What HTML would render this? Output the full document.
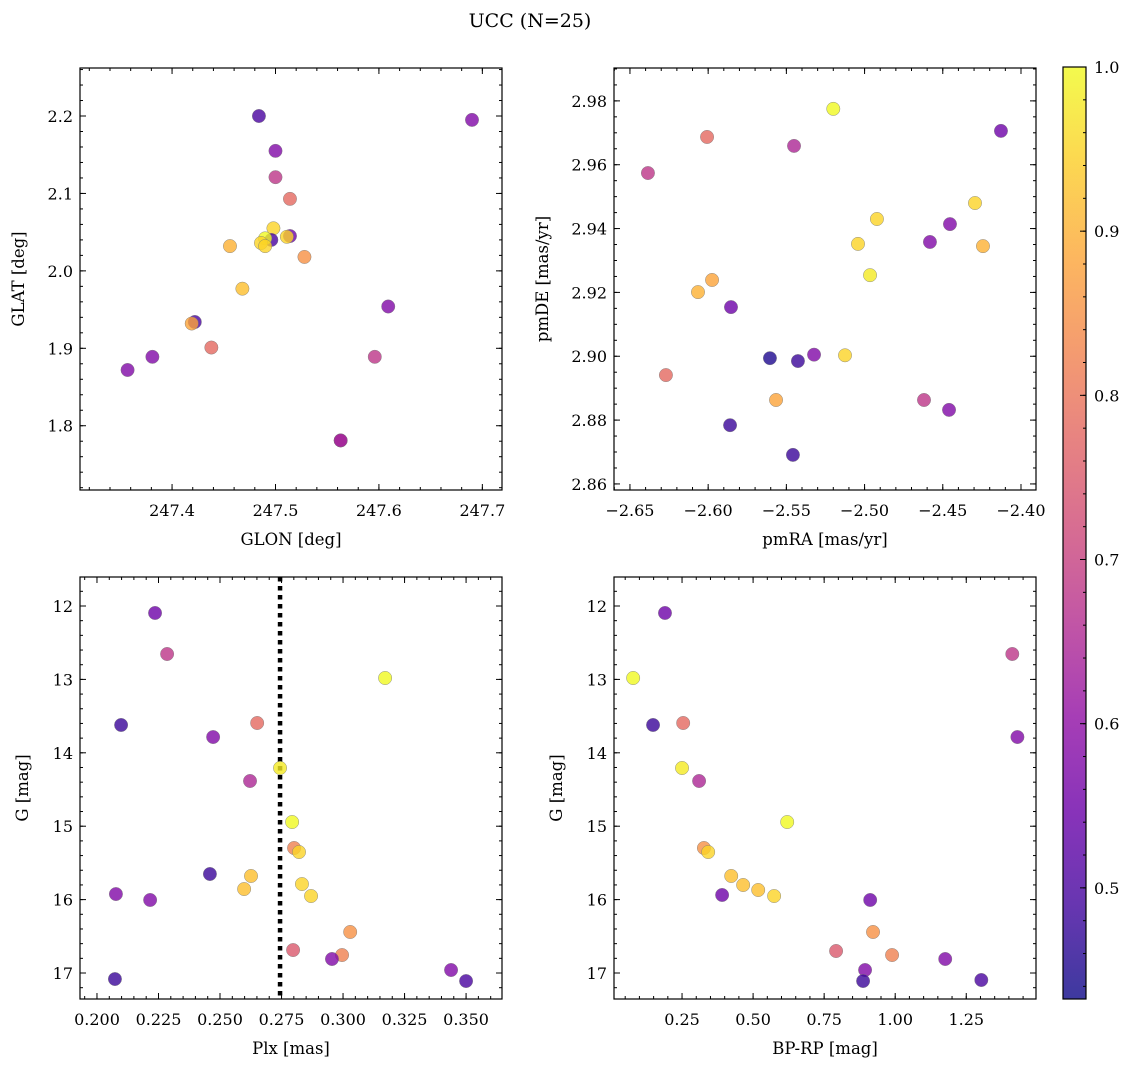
<!DOCTYPE html>
<html><head><meta charset="utf-8"><style>
body{margin:0;background:#fff}
svg text{font-family:"DejaVu Serif","Liberation Serif",serif;fill:#000}
</style></head><body>
<svg id="fig" width="1136" height="1067" xmlns="http://www.w3.org/2000/svg">
<text x="530" y="27" font-size="19" text-anchor="middle">UCC (N=25)</text>
</svg>
<script>
// Panel 1: GLON vs GLAT
const glon1 = [247.484,247.690,247.500,247.500,247.514,247.498,247.496,247.514,247.511,247.490,247.486,247.490,247.456,247.528,247.468,247.422,247.419,247.438,247.609,247.381,247.596,247.357,247.563,247.563];
const glat1 = [2.200,2.195,2.155,2.121,2.093,2.055,2.040,2.045,2.044,2.042,2.036,2.032,2.032,2.018,1.977,1.934,1.932,1.901,1.954,1.889,1.889,1.872,1.781,1.781];
const prob1 = [0.50,0.58,0.58,0.68,0.78,0.95,0.50,0.55,0.95,1.00,0.95,0.95,0.90,0.85,0.92,0.50,0.88,0.78,0.58,0.58,0.68,0.58,0.55,0.65];
// Panel 2: pmRA vs pmDE
const pmra2 = [-2.520,-2.4128,-2.6007,-2.5451,-2.6385,-2.4294,-2.4921,-2.4454,-2.4582,-2.5042,-2.4243,-2.4965,-2.5975,-2.6065,-2.5854,-2.5323,-2.5605,-2.5426,-2.5125,-2.6270,-2.5566,-2.4620,-2.4460,-2.5860,-2.5458];
const pmde2 = [2.9775,2.9706,2.9687,2.9659,2.9574,2.9480,2.9430,2.9414,2.9358,2.9352,2.9345,2.9254,2.9239,2.9201,2.9154,2.9005,2.8994,2.8985,2.9003,2.8941,2.8863,2.8863,2.8832,2.8784,2.8691];
const prob2 = [1.00,0.55,0.78,0.65,0.68,0.95,0.95,0.58,0.58,0.95,0.90,0.98,0.88,0.90,0.55,0.58,0.45,0.48,0.95,0.78,0.88,0.68,0.58,0.48,0.48];
// Panel 3: Plx vs G
const plx3 = [0.2236,0.2285,0.3171,0.2098,0.2651,0.2472,0.2622,0.2744,0.2793,0.2801,0.2821,0.2459,0.2626,0.2598,0.2833,0.2870,0.2077,0.2216,0.3029,0.2797,0.2996,0.2955,0.3439,0.2073,0.3500];
const g3 = [12.095,12.654,12.981,13.621,13.594,13.785,14.384,14.207,14.943,15.297,15.352,15.651,15.678,15.856,15.788,15.951,15.924,16.005,16.441,16.687,16.755,16.809,16.959,17.082,17.109];
const prob3 = [0.55,0.68,1.00,0.48,0.78,0.58,0.65,0.98,1.00,0.82,0.95,0.48,0.92,0.92,0.95,0.95,0.58,0.58,0.85,0.75,0.82,0.58,0.58,0.48,0.50];
const plxLine = 0.2744;
// Panel 4: BP-RP vs G
const bprp4 = [0.190,1.412,0.078,0.148,0.254,1.430,0.250,0.310,0.620,0.327,0.342,0.423,0.465,0.518,0.574,0.391,0.912,0.922,0.792,0.989,1.176,0.894,0.887,1.303];
const g4 = [12.095,12.654,12.981,13.621,13.594,13.785,14.207,14.384,14.943,15.297,15.352,15.678,15.801,15.869,15.951,15.937,16.005,16.441,16.700,16.755,16.809,16.959,17.109,17.095];
const prob4 = [0.55,0.68,1.00,0.48,0.78,0.58,0.98,0.65,1.00,0.85,0.95,0.92,0.92,0.92,0.95,0.55,0.55,0.85,0.75,0.82,0.58,0.58,0.48,0.50];
// Tick labels
const ticks1x = ["247.4","247.5","247.6","247.7"];
const ticks1y = ["1.8","1.9","2.0","2.1","2.2"];
const ticks2x = ["−2.65","−2.60","−2.55","−2.50","−2.45","−2.40"];
const ticks2y = ["2.86","2.88","2.90","2.92","2.94","2.96","2.98"];
const ticks3x = ["0.200","0.225","0.250","0.275","0.300","0.325","0.350"];
const ticksG = ["12","13","14","15","16","17"];
const ticks4x = ["0.25","0.50","0.75","1.00","1.25"];
const ticksC = ["0.5","0.6","0.7","0.8","0.9","1.0"];
const cMin = 0.4323, cMax = 1.0;

const NS="http://www.w3.org/2000/svg";
const svg=document.getElementById('fig');
function mk(tag,attrs,parent){const e=document.createElementNS(NS,tag);for(const k in attrs)e.setAttribute(k,attrs[k]);(parent||svg).appendChild(e);return e;}
const stops=["#0d0887","#41049d","#6a00a8","#8f0da4","#b12a90","#cc4778","#e16462","#f2844b","#fca636","#fcce25","#f0f921"];
function hex(h){return [1,3,5].map(i=>parseInt(h.substr(i,2),16));}
function plasma(t){t=Math.max(0,Math.min(1,t));const s=t*10,i=Math.min(9,Math.floor(s)),f=s-i;const a=hex(stops[i]),b=hex(stops[i+1]);return 'rgb('+a.map((v,k)=>Math.round(v+(b[k]-v)*f)).join(',')+')';}
function cmap(c){return plasma((c-cMin)/(cMax-cMin));}

function panel(o){
  const g=mk('g',{});
  
  
  const sx=v=>o.x0+(v-o.xmin)/(o.xmax-o.xmin)*(o.x1-o.x0);
  const sy=o.inv? v=>o.y0+(v-o.ymin)/(o.ymax-o.ymin)*(o.y1-o.y0) : v=>o.y1-(v-o.ymin)/(o.ymax-o.ymin)*(o.y1-o.y0);
  if(o.vline!==undefined){const l=mk('line',{x1:sx(o.vline),x2:sx(o.vline),y1:o.y0,y2:o.y1,stroke:'#000','stroke-width':4.5,'stroke-dasharray':'4.5,4.5'},g);
    }
  for(let i=0;i<o.xs.length;i++){
    const c=mk('circle',{cx:sx(o.xs[i]),cy:sy(o.ys[i]),r:6.7,fill:cmap(o.cs[i]),'fill-opacity':0.8,stroke:'#777','stroke-width':0.5,'stroke-opacity':0.8},g);
    
    
  }
  const f=mk('rect',{x:o.x0,y:o.y0,width:o.x1-o.x0,height:o.y1-o.y0,fill:'none',stroke:'#000','stroke-width':1.2},g);
  
  const eps=1e-9;
  for(let v=Math.ceil(o.xmin/o.xmn-eps)*o.xmn; v<=o.xmax+eps; v+=o.xmn){const X=sx(v);
    mk('line',{x1:X,x2:X,y1:o.y1,y2:o.y1-3,stroke:'#000'},g);mk('line',{x1:X,x2:X,y1:o.y0,y2:o.y0+3,stroke:'#000'},g);}
  o.xt.forEach(t=>{const v=parseFloat(t.replace('−','-'));const X=sx(v);
    mk('line',{x1:X,x2:X,y1:o.y1,y2:o.y1-6,stroke:'#000'},g);mk('line',{x1:X,x2:X,y1:o.y0,y2:o.y0+6,stroke:'#000'},g);
    const tx=mk('text',{x:X,y:o.y1+26,'font-size':16,'text-anchor':'middle'},g);tx.textContent=t;
    });
  for(let v=Math.ceil(o.ymin/o.ymn-eps)*o.ymn; v<=o.ymax+eps; v+=o.ymn){const Y=sy(v);
    mk('line',{x1:o.x0,x2:o.x0+3,y1:Y,y2:Y,stroke:'#000'},g);mk('line',{x1:o.x1,x2:o.x1-3,y1:Y,y2:Y,stroke:'#000'},g);}
  o.yt.forEach(t=>{const v=parseFloat(t);const Y=sy(v);
    mk('line',{x1:o.x0,x2:o.x0+6,y1:Y,y2:Y,stroke:'#000'},g);mk('line',{x1:o.x1,x2:o.x1-6,y1:Y,y2:Y,stroke:'#000'},g);
    const tx=mk('text',{x:o.x0-7,y:Y+6,'font-size':16,'text-anchor':'end'},g);tx.textContent=t;
    });
  const xl=mk('text',{x:(o.x0+o.x1)/2,y:o.y1+55,'font-size':16.5,'text-anchor':'middle'},g);xl.textContent=o.xlabel;
  
  const yx=o.x0-o.ylo, yy=(o.y0+o.y1)/2;
  const yl=mk('text',{x:yx,y:yy,'font-size':16.5,'text-anchor':'middle',transform:`rotate(-90 ${yx} ${yy})`},g);yl.textContent=o.ylabel;
  
}
panel({name:'glon-glat-panel',x0:80,x1:502,y0:68,y1:490,xmin:247.311,xmax:247.719,ymin:1.717,ymax:2.262,xmn:0.02,ymn:0.02,xt:ticks1x,yt:ticks1y,xs:glon1,ys:glat1,cs:prob1,xlabel:'GLON [deg]',ylabel:'GLAT [deg]',ylo:56});
panel({name:'pm-panel',x0:614,x1:1036,y0:68,y1:490,xmin:-2.6602,xmax:-2.3904,ymin:2.8581,ymax:2.9903,xmn:0.01,ymn:0.005,xt:ticks2x,yt:ticks2y,xs:pmra2,ys:pmde2,cs:prob2,xlabel:'pmRA [mas/yr]',ylabel:'pmDE [mas/yr]',ylo:66});
panel({name:'plx-g-panel',x0:80,x1:502,y0:577,y1:999,xmin:0.1931,xmax:0.3646,ymin:11.605,ymax:17.354,inv:true,xmn:0.005,ymn:0.2,xt:ticks3x,yt:ticksG,xs:plx3,ys:g3,cs:prob3,vline:plxLine,xlabel:'Plx [mas]',ylabel:'G [mag]',ylo:52});
panel({name:'cmd-panel',x0:614,x1:1036,y0:577,y1:999,xmin:0.0106,xmax:1.4954,ymin:11.605,ymax:17.354,inv:true,xmn:0.05,ymn:0.2,xt:ticks4x,yt:ticksG,xs:bprp4,ys:g4,cs:prob4,xlabel:'BP-RP [mag]',ylabel:'G [mag]',ylo:52});

const cb=mk('g',{});


const defs=mk('defs',{},cb);const lg=mk('linearGradient',{id:'cbg',x1:0,y1:1,x2:0,y2:0},defs);
for(let i=0;i<=20;i++){mk('stop',{offset:i/20,'stop-color':plasma(i/20),'stop-opacity':0.8},lg);}
const cx0=1063,cx1=1086,cy0=67,cy1=999;
mk('rect',{x:cx0,y:cy0,width:cx1-cx0,height:cy1-cy0,fill:'url(#cbg)',stroke:'#000','stroke-width':1.2},cb);
const scy=v=>cy1-(v-cMin)/(cMax-cMin)*(cy1-cy0);
for(let v=0.44;v<=1.0001;v+=0.02){mk('line',{x1:cx1,x2:cx1-3,y1:scy(v),y2:scy(v),stroke:'#000'},cb);}
ticksC.forEach(t=>{const Y=scy(parseFloat(t));mk('line',{x1:cx1,x2:cx1-6,y1:Y,y2:Y,stroke:'#000'},cb);
  const tx=mk('text',{x:cx1+8,y:Y+6,'font-size':16},cb);tx.textContent=t;
  });
</script>
</body></html>
